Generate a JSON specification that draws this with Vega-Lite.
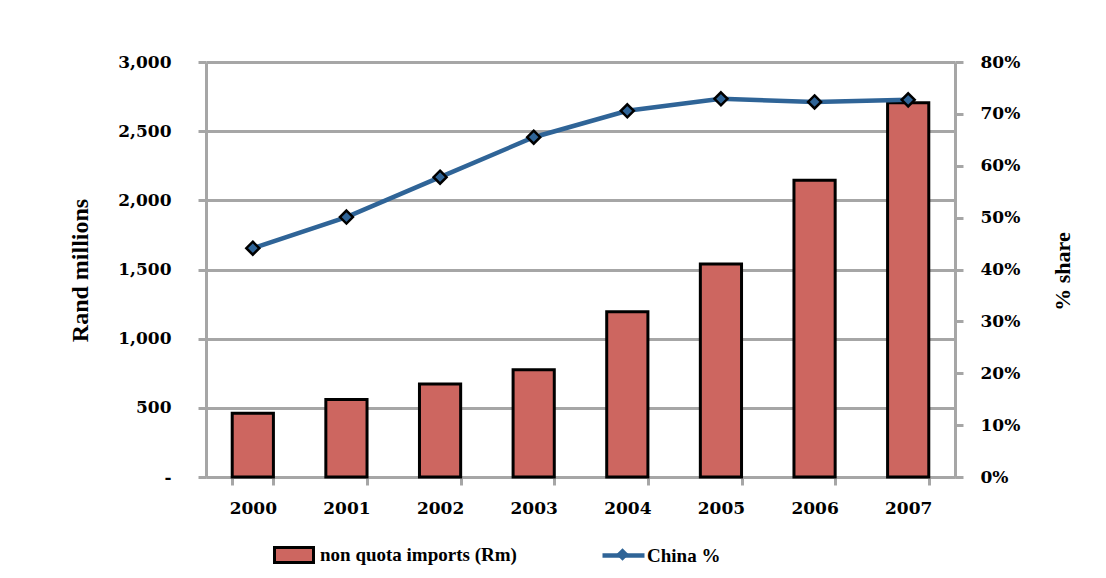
{
  "$schema": "https://vega.github.io/schema/vega-lite/v6.json",
  "width": 749,
  "height": 415,
  "autosize": {"type": "none"},
  "padding": {"left": 206, "top": 62, "right": 151, "bottom": 101},
  "background": "white",
  "config": {
    "view": {"stroke": null},
    "axis": {
      "labelFont": "DejaVu Serif",
      "labelFontWeight": "bold",
      "labelFontSize": 17,
      "labelColor": "black",
      "titleFont": "Liberation Serif",
      "titleFontWeight": "bold",
      "titleColor": "black",
      "domainColor": "#A6A6A6",
      "domainWidth": 3,
      "tickColor": "#A6A6A6",
      "tickWidth": 3,
      "tickSize": 8,
      "gridColor": "#A6A6A6",
      "gridWidth": 3,
      "gridOpacity": 1
    },
    "legend": {
      "labelFont": "Liberation Serif",
      "labelFontWeight": "bold",
      "labelFontSize": 19,
      "labelColor": "black",
      "labelLimit": 500,
      "padding": 0,
      "title": null
    }
  },
  "data": {
    "values": [
      {"year": "2000", "imports": 460, "china": 0.441},
      {"year": "2001", "imports": 560, "china": 0.501},
      {"year": "2002", "imports": 672, "china": 0.578},
      {"year": "2003", "imports": 775, "china": 0.655},
      {"year": "2004", "imports": 1195, "china": 0.706},
      {"year": "2005", "imports": 1540, "china": 0.729},
      {"year": "2006", "imports": 2145, "china": 0.723},
      {"year": "2007", "imports": 2705, "china": 0.727}
    ]
  },
  "encoding": {
    "x": {
      "field": "year",
      "type": "ordinal",
      "scale": {"paddingInner": 0.56, "paddingOuter": 0.28},
      "axis": {
        "title": null,
        "labelAngle": 0,
        "grid": false,
        "tickBand": "extent",
        "labelPadding": 15,
        "labelBaseline": "top"
      }
    }
  },
  "layer": [
    {
      "mark": {"type": "bar", "stroke": "black", "strokeWidth": 3},
      "encoding": {
        "y": {
          "field": "imports",
          "type": "quantitative",
          "scale": {"domain": [0, 3000]},
          "axis": {
            "title": "Rand millions",
            "titleFontSize": 24,
            "titleX": -126,
            "titleY": 208,
            "titleBaseline": "middle",
            "titleAngle": 270,
            "values": [0, 500, 1000, 1500, 2000, 2500, 3000],
            "labelExpr": "datum.value == 0 ? '-' : format(datum.value, ',.0f')",
            "labelPadding": 27,
            "grid": true
          }
        },
        "fill": {
          "datum": "non quota imports (Rm)",
          "scale": {"range": ["#CD6660"]},
          "legend": {
            "orient": "none",
            "legendX": 67,
            "legendY": 472,
            "symbolType": "M-1,-0.385H1V0.385H-1Z",
            "symbolSize": 1521,
            "symbolStrokeColor": "black",
            "symbolStrokeWidth": 3,
            "labelOffset": 5
          }
        }
      }
    },
    {
      "encoding": {
        "y": {
          "field": "china",
          "type": "quantitative",
          "scale": {"domain": [0, 0.8]},
          "axis": {
            "orient": "right",
            "title": "% share",
            "titleFontSize": 22,
            "titleX": 107,
            "titleY": 209,
            "titleBaseline": "middle",
            "titleAngle": 270,
            "values": [0, 0.1, 0.2, 0.3, 0.4, 0.5, 0.6, 0.7, 0.8],
            "format": ".0%",
            "labelPadding": 17,
            "grid": false
          }
        }
      },
      "layer": [
        {
          "mark": {"type": "line", "strokeWidth": 4.5},
          "encoding": {
            "stroke": {
              "datum": "China %",
              "scale": {"range": ["#2F6497"]},
              "legend": {
                "orient": "none",
                "legendX": 394,
                "legendY": 470,
                "symbolType": "M-1,0H1",
                "symbolSize": 1764,
                "symbolStrokeWidth": 4.5,
                "symbolFillColor": "transparent",
                "labelOffset": 0
              }
            }
          }
        },
        {
          "mark": {"type": "point", "filled": true, "fill": "#2F6497", "stroke": "black", "strokeWidth": 2.5, "size": 1878, "opacity": 1},
          "encoding": {
            "shape": {
              "datum": "China marker",
              "scale": {"range": ["M0,-0.3L0.3,0L0,0.3L-0.3,0Z"]},
              "legend": {
                "orient": "none",
                "legendX": 394,
                "legendY": 470,
                "symbolSize": 1764,
                "symbolFillColor": "#2F6497",
                "symbolStrokeColor": "black",
                "symbolStrokeWidth": 2.5,
                "symbolOpacity": 1,
                "labelExpr": "'China %'",
                "labelOpacity": 0,
                "labelOffset": 0
              }
            }
          }
        }
      ]
    }
  ],
  "resolve": {"scale": {"y": "independent"}}
}
